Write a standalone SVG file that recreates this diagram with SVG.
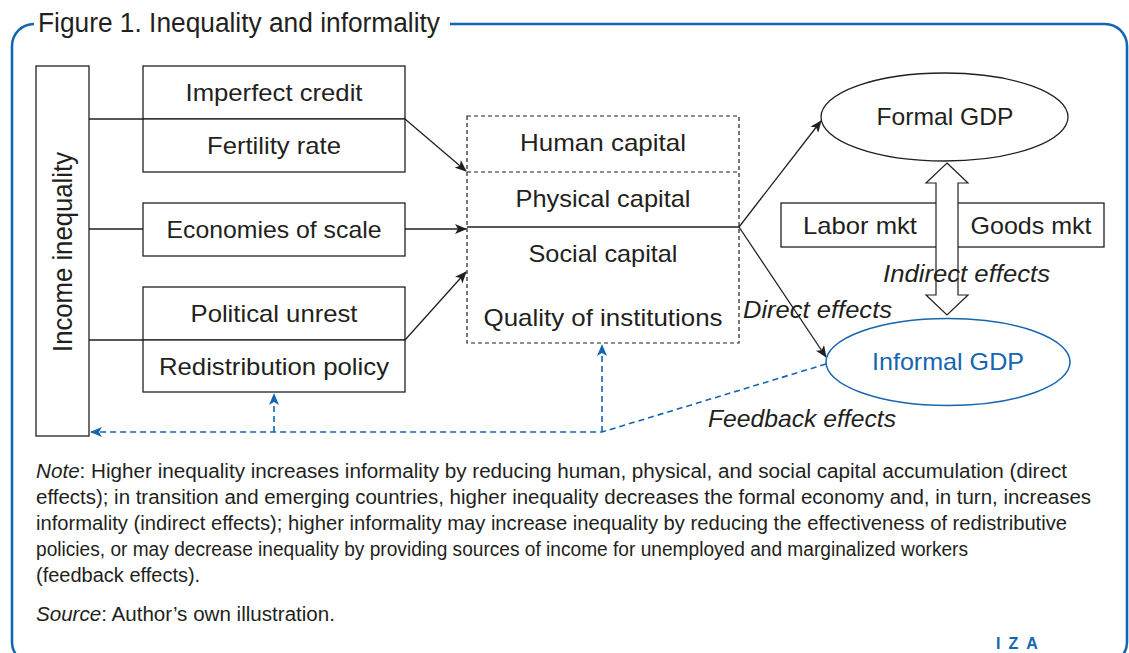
<svg xmlns="http://www.w3.org/2000/svg" width="1129" height="653" viewBox="0 0 1129 653">
<defs>
<style>
.lbl{font-family:"Liberation Sans",Arial,sans-serif;font-size:24px;fill:#231f20;text-anchor:middle}
.it{font-family:"Liberation Sans",Arial,sans-serif;font-size:24px;font-style:italic;fill:#231f20}
.note{font-family:"Liberation Sans",Arial,sans-serif;font-size:20px;fill:#231f20}
.box{fill:#fff;stroke:#231f20;stroke-width:1.3}
.ln{fill:none;stroke:#231f20;stroke-width:1.3}
.dash{fill:none;stroke:#231f20;stroke-width:1.2;stroke-dasharray:4 3}
.blue{fill:none;stroke:#1566b0;stroke-width:1.6;stroke-dasharray:6 4}
</style>
<marker id="ah" viewBox="0 0 12 10" refX="11" refY="5" markerWidth="12" markerHeight="10" markerUnits="userSpaceOnUse" orient="auto">
<path d="M0,0 L12,5 L0,10 L3,5 z" fill="#231f20"/>
</marker>
<marker id="ahb" viewBox="0 0 12 10" refX="11" refY="5" markerWidth="12" markerHeight="10" markerUnits="userSpaceOnUse" orient="auto">
<path d="M0,0 L12,5 L0,10 L3,5 z" fill="#1566b0"/>
</marker>
</defs>
<rect width="1129" height="653" fill="#fff"/>

<g id="frame">
<path d="M450,24 H1105 A22,22 0 0 1 1127,46 V642 A22,22 0 0 1 1105,664 H34 A22,22 0 0 1 12,642 V46 A22,22 0 0 1 34,24" fill="none" stroke="#1566b0" stroke-width="2.6"/>
<text x="38" y="32" font-family="Liberation Sans, Arial, sans-serif" font-size="27" fill="#231f20" textLength="402" lengthAdjust="spacingAndGlyphs">Figure 1. Inequality and informality</text>
</g>

<g id="connectors">
<line class="ln" x1="89" y1="119" x2="143" y2="119"/>
<line class="ln" x1="89" y1="229" x2="143" y2="229"/>
<line class="ln" x1="89" y1="340" x2="143" y2="340"/>
<line class="ln" x1="405" y1="119" x2="466" y2="171" marker-end="url(#ah)"/>
<line class="ln" x1="405" y1="229" x2="466" y2="229" marker-end="url(#ah)"/>
<line class="ln" x1="405" y1="340" x2="466" y2="272" marker-end="url(#ah)"/>
<line class="ln" x1="739" y1="227" x2="821" y2="121" marker-end="url(#ah)"/>
<line class="ln" x1="739" y1="227" x2="826" y2="357" marker-end="url(#ah)"/>
<path class="blue" d="M826,364 L602,432 L91,432" marker-end="url(#ahb)"/>
<line class="blue" x1="602" y1="432" x2="602" y2="345" marker-end="url(#ahb)"/>
<line class="blue" x1="274" y1="432" x2="274" y2="394" marker-end="url(#ahb)"/>
</g>

<g id="income-inequality">
<rect class="box" x="36" y="66" width="53" height="370"/>
<text class="lbl" transform="translate(72,252) rotate(-90)" style="font-size:27px" textLength="200" lengthAdjust="spacingAndGlyphs">Income inequality</text>
</g>

<g id="imperfect-credit">
<rect class="box" x="143" y="66" width="262" height="53"/>
<text class="lbl" x="274" y="101" textLength="177" lengthAdjust="spacingAndGlyphs">Imperfect credit</text>
</g>
<g id="fertility-rate">
<rect class="box" x="143" y="119" width="262" height="53"/>
<text class="lbl" x="274" y="154" textLength="134" lengthAdjust="spacingAndGlyphs">Fertility rate</text>
</g>
<g id="economies-of-scale">
<rect class="box" x="143" y="203" width="262" height="53"/>
<text class="lbl" x="274" y="238" textLength="215" lengthAdjust="spacingAndGlyphs">Economies of scale</text>
</g>
<g id="political-unrest">
<rect class="box" x="143" y="287" width="262" height="53"/>
<text class="lbl" x="274" y="322" textLength="167" lengthAdjust="spacingAndGlyphs">Political unrest</text>
</g>
<g id="redistribution-policy">
<rect class="box" x="143" y="340" width="262" height="52"/>
<text class="lbl" x="274" y="375" textLength="230" lengthAdjust="spacingAndGlyphs">Redistribution policy</text>
</g>

<g id="capital">
<rect class="dash" x="467" y="116" width="272" height="227"/>
<line class="dash" x1="467" y1="172" x2="739" y2="172"/>
<line class="ln" x1="467" y1="227" x2="739" y2="227"/>
<text class="lbl" x="603" y="151" textLength="166" lengthAdjust="spacingAndGlyphs">Human capital</text>
<text class="lbl" x="603" y="207" textLength="175" lengthAdjust="spacingAndGlyphs">Physical capital</text>
<text class="lbl" x="603" y="262" textLength="149" lengthAdjust="spacingAndGlyphs">Social capital</text>
<text class="lbl" x="603" y="326" textLength="239" lengthAdjust="spacingAndGlyphs">Quality of institutions</text>
</g>

<g id="formal-gdp">
<ellipse class="box" cx="944.5" cy="117" rx="123.5" ry="44"/>
<text class="lbl" x="945" y="125" textLength="137" lengthAdjust="spacingAndGlyphs">Formal GDP</text>
</g>

<g id="markets">
<rect class="box" x="781" y="203" width="323" height="44"/>
<text class="lbl" x="860" y="234" textLength="114" lengthAdjust="spacingAndGlyphs">Labor mkt</text>
<text class="lbl" x="1031" y="234" textLength="121" lengthAdjust="spacingAndGlyphs">Goods mkt</text>
</g>

<g id="indirect-arrow">
<polygon points="947,163 968,183 958,183 958,295 968,295 947,315 926,295 936,295 936,183 926,183" fill="#fff" stroke="#231f20" stroke-width="1.2"/>
</g>

<g id="informal-gdp">
<ellipse cx="948" cy="362" rx="122" ry="43.5" fill="#fff" stroke="#1566b0" stroke-width="1.5"/>
<text class="lbl" x="948" y="370" style="fill:#1566b0" textLength="152" lengthAdjust="spacingAndGlyphs">Informal GDP</text>
</g>

<g id="effect-labels">
<text class="it" x="883" y="282" textLength="167" lengthAdjust="spacingAndGlyphs">Indirect effects</text>
<text class="it" x="743" y="318" textLength="149" lengthAdjust="spacingAndGlyphs">Direct effects</text>
<text class="it" x="708" y="427" textLength="188" lengthAdjust="spacingAndGlyphs">Feedback effects</text>
</g>

<g id="note">
<text class="note" x="36" y="478" textLength="1031" lengthAdjust="spacingAndGlyphs"><tspan font-style="italic">Note</tspan>: Higher inequality increases informality by reducing human, physical, and social capital accumulation (direct</text>
<text class="note" x="36" y="504" textLength="1055" lengthAdjust="spacingAndGlyphs">effects); in transition and emerging countries, higher inequality decreases the formal economy and, in turn, increases</text>
<text class="note" x="36" y="530" textLength="1031" lengthAdjust="spacingAndGlyphs">informality (indirect effects); higher informality may increase inequality by reducing the effectiveness of redistributive</text>
<text class="note" x="36" y="556" textLength="932" lengthAdjust="spacingAndGlyphs">policies, or may decrease inequality by providing sources of income for unemployed and marginalized workers</text>
<text class="note" x="36" y="582">(feedback effects).</text>
<text class="note" x="36" y="621" textLength="299" lengthAdjust="spacingAndGlyphs"><tspan font-style="italic">Source</tspan>: Author’s own illustration.</text>
</g>

<g id="logo">
<text x="996" y="649" font-family="Liberation Sans, Arial, sans-serif" font-size="16" font-weight="bold" fill="#1566b0" letter-spacing="8">IZA</text>
</g>
</svg>
